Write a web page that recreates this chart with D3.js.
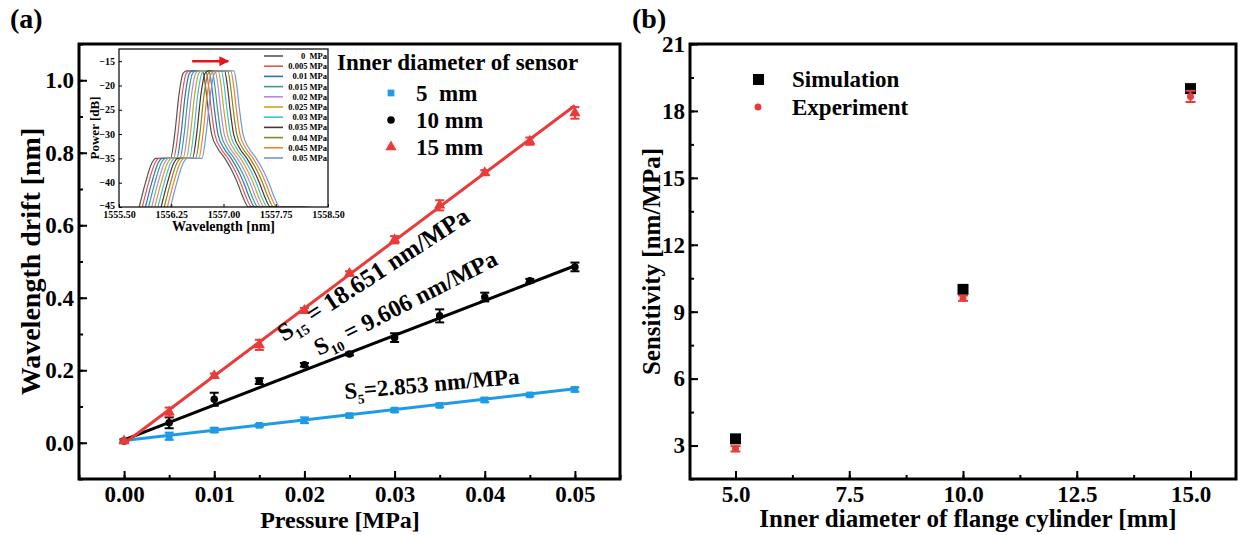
<!DOCTYPE html>
<html lang="en">
<head>
<meta charset="UTF-8">
<title>Wavelength drift and sensitivity</title>
<script src="https://d3js.org/d3.v7.min.js"></script>
<style>
  body { margin: 0; background: #fff; }
  svg { display: block; }
  text { font-family: "Liberation Serif", "Times New Roman", serif; font-weight: bold; fill: #000; }
</style>
</head>
<body>
<svg width="1244" height="535"></svg>
<script>
// ---- panel (a) data ----
const pressure = [0, 0.005, 0.01, 0.015, 0.02, 0.025, 0.03, 0.035, 0.04, 0.045, 0.05];
const drift5  = [0.005, 0.018, 0.035, 0.048, 0.062, 0.075, 0.090, 0.103, 0.118, 0.132, 0.147];
const err5    = [0.004, 0.010, 0.006, 0.004, 0.008, 0.005, 0.005, 0.005, 0.006, 0.004, 0.006];
const drift10 = [0.005, 0.055, 0.120, 0.170, 0.215, 0.245, 0.290, 0.350, 0.402, 0.447, 0.485];
const err10   = [0.004, 0.015, 0.018, 0.008, 0.005, 0.004, 0.012, 0.018, 0.012, 0.005, 0.012];
const drift15 = [0.005, 0.085, 0.185, 0.270, 0.365, 0.467, 0.560, 0.655, 0.745, 0.832, 0.910];
const err15   = [0.004, 0.012, 0.006, 0.014, 0.007, 0.006, 0.010, 0.014, 0.007, 0.010, 0.016];
const slopes  = [2.853, 9.606, 18.651];
const intercepts = [0.006, 0.008, -0.002];
const sensorLabels = ["5  mm", "10 mm", "15 mm"];
const xTicksA = [0, 0.01, 0.02, 0.03, 0.04, 0.05];
const yTicksA = [0, 0.2, 0.4, 0.6, 0.8, 1.0];

// ---- inset spectra ----
const baseLam = [1555.79, 1555.88, 1555.97, 1556.03, 1556.24, 1556.30, 1556.36, 1556.42, 1556.47,
                 1556.70, 1556.74, 1556.78, 1556.83, 1556.92, 1557.02, 1557.12, 1557.20, 1557.28, 1557.36, 1557.80];
const baseDb  = [-45, -40, -36, -35, -35, -30, -22, -17.5, -17, -17, -20, -25, -30, -33, -35, -37.5, -40, -43, -45, -45];
const shifts  = [0, 0.045, 0.09, 0.135, 0.18, 0.225, 0.27, 0.315, 0.36, 0.405, 0.45];
const pressLabels = ["0  MPa", "0.005 MPa", "0.01 MPa", "0.015 MPa", "0.02 MPa", "0.025 MPa",
                     "0.03 MPa", "0.035 MPa", "0.04 MPa", "0.045 MPa", "0.05 MPa"];
const specColors = ["#555555", "#e8544c", "#2f6fc0", "#3a9f7c", "#b98ad6", "#c9a42a",
                    "#3cc4c8", "#5a2c2c", "#7d8a26", "#f0822e", "#6d9ad4"];
const lamTicks = [1555.5, 1556.25, 1557.0, 1557.75, 1558.5];
const dbTicks = [-45, -40, -35, -30, -25, -20, -15];

// ---- panel (b) data ----
const diameter = [5, 10, 15];
const simulation = [3.3, 10.0, 19.0];
const experiment = [2.853, 9.606, 18.651];
const expErr = [0.12, 0.12, 0.25];
const xTicksB = [5, 7.5, 10, 12.5, 15];
const yTicksB = [3, 6, 9, 12, 15, 18, 21];

const blue = "#1e9be6", red = "#ea3b3b";
const svg = d3.select("svg");

function styleAxis(g, size) {
  g.select(".domain").remove();
  g.selectAll("line").attr("stroke", "#000").attr("stroke-width", 2);
  g.selectAll("text").attr("font-family", null).attr("font-size", size);
}

function frame(x, y, sw) {
  const [x0, x1] = x.range(), [y0, y1] = y.range();
  svg.append("rect").attr("x", x0).attr("y", y1).attr("width", x1 - x0).attr("height", y0 - y1)
    .attr("fill", "none").attr("stroke", "#000").attr("stroke-width", sw);
}

// ================= panel (a) =================
const ax = d3.scaleLinear().domain([-0.005, 0.055]).range([79, 620]);
const ay = d3.scaleLinear().domain([-0.1, 1.1]).range([479, 44]);

svg.append("g").attr("transform", `translate(0,${ay.range()[0]})`)
  .call(d3.axisBottom(ax).tickValues(d3.range(-0.005, 0.056, 0.005)).tickFormat("").tickSize(-4).tickSizeOuter(0))
  .call(g => styleAxis(g, 0));
svg.append("g").attr("transform", `translate(0,${ay.range()[0]})`)
  .call(d3.axisBottom(ax).tickValues(xTicksA).tickFormat(d3.format(".2f")).tickSize(-8).tickSizeOuter(0).tickPadding(7))
  .call(g => styleAxis(g, 23));
svg.append("g").attr("transform", `translate(${ax.range()[0]},0)`)
  .call(d3.axisLeft(ay).tickValues(d3.range(-0.1, 1.11, 0.1)).tickFormat("").tickSize(-4).tickSizeOuter(0))
  .call(g => styleAxis(g, 0));
svg.append("g").attr("transform", `translate(${ax.range()[0]},0)`)
  .call(d3.axisLeft(ay).tickValues(yTicksA).tickFormat(d3.format(".1f")).tickSize(-8).tickSizeOuter(0).tickPadding(5))
  .call(g => styleAxis(g, 23));
frame(ax, ay, 3);

svg.append("text").attr("x", 10).attr("y", 28).attr("font-size", 28).text("(a)");
svg.append("text").attr("x", 340).attr("y", 528).attr("text-anchor", "middle")
  .attr("font-size", 24).text("Pressure [MPa]");
svg.append("text").attr("transform", `translate(40,${d3.mean(ay.range())}) rotate(-90)`)
  .attr("text-anchor", "middle").attr("font-size", 28).text("Wavelength drift [nm]");

const seriesA = [
  {vals: drift5, err: err5, color: blue, sym: d3.symbolSquare, size: 45},
  {vals: drift10, err: err10, color: "#000", sym: d3.symbolCircle, size: 45},
  {vals: drift15, err: err15, color: red, sym: d3.symbolTriangle, size: 55}
];

seriesA.forEach((s, i) => {
  const g = svg.append("g");
  // fitted line
  g.append("line")
    .attr("x1", ax(0)).attr("y1", ay(intercepts[i]))
    .attr("x2", ax(0.05)).attr("y2", ay(slopes[i] * 0.05 + intercepts[i]))
    .attr("stroke", s.color).attr("stroke-width", 3);
  // error bars
  pressure.forEach((p, j) => {
    const x = ax(p), yt = ay(s.vals[j] + s.err[j]), yb = ay(s.vals[j] - s.err[j]);
    g.append("line").attr("x1", x).attr("x2", x).attr("y1", yt).attr("y2", yb).attr("stroke", s.color).attr("stroke-width", 2);
    g.append("line").attr("x1", x - 4.5).attr("x2", x + 4.5).attr("y1", yt).attr("y2", yt).attr("stroke", s.color).attr("stroke-width", 2);
    g.append("line").attr("x1", x - 4.5).attr("x2", x + 4.5).attr("y1", yb).attr("y2", yb).attr("stroke", s.color).attr("stroke-width", 2);
  });
  g.selectAll("path.pt").data(pressure).join("path").attr("class", "pt")
    .attr("d", d3.symbol().type(s.sym).size(s.size))
    .attr("transform", (p, j) => `translate(${ax(p)},${ay(s.vals[j])})`)
    .attr("fill", s.color);
});

// slope annotations
function slopeLabel(x, y, angle, size, sub, rest) {
  const t = svg.append("text").attr("transform", `translate(${x},${y}) rotate(${angle})`).attr("font-size", size)
    .attr("xml:space", "preserve");
  t.append("tspan").text("S");
  t.append("tspan").attr("dy", 6).attr("font-size", size * 0.58).text(sub);
  t.append("tspan").attr("dy", -6).text(rest);
}
slopeLabel(284, 342, -33, 25, "15", " = 18.651 nm/MPa");
slopeLabel(319, 356, -27, 24, "10", " = 9.606 nm/MPa");
slopeLabel(345, 399, -5, 23, "5", "=2.853 nm/MPa");

// legend (a)
svg.append("text").attr("x", 337).attr("y", 70).attr("font-size", 23).text("Inner diameter of sensor");
seriesA.forEach((s, i) => {
  const y = 93 + i * 27;
  svg.append("path").attr("d", d3.symbol().type(s.sym).size(s.size)).attr("transform", `translate(391,${y})`).attr("fill", s.color);
  svg.append("text").attr("x", 416).attr("y", y + 8).attr("font-size", 23).attr("xml:space", "preserve").text(sensorLabels[i]);
});

// ================= inset =================
const ix = d3.scaleLinear().domain([1555.5, 1558.5]).range([119, 328]);
const iy = d3.scaleLinear().domain([-45, -12.5]).range([207, 49]);
svg.append("rect").attr("x", 88).attr("y", 46).attr("width", 244).attr("height", 190).attr("fill", "#fff");
svg.append("clipPath").attr("id", "inClip").append("rect")
  .attr("x", ix.range()[0]).attr("y", iy.range()[1]).attr("width", ix.range()[1] - ix.range()[0]).attr("height", iy.range()[0] - iy.range()[1]);
const spec = d3.line().x(d => ix(d[0])).y(d => iy(d[1])).curve(d3.curveMonotoneX);
const specG = svg.append("g").attr("clip-path", "url(#inClip)");
shifts.forEach((sh, k) => {
  specG.append("path").attr("d", spec(baseLam.map((l, j) => [l + sh, baseDb[j]])))
    .attr("fill", "none").attr("stroke", specColors[k]).attr("stroke-width", 1.2);
});
svg.append("g").attr("transform", `translate(0,${iy.range()[0]})`)
  .call(d3.axisBottom(ix).tickValues(lamTicks).tickFormat(d3.format(".2f")).tickSize(-3).tickSizeOuter(0).tickPadding(4))
  .call(g => styleAxis(g, 10)).call(g => g.selectAll("line").attr("stroke-width", 1));
svg.append("g").attr("transform", `translate(${ix.range()[0]},0)`)
  .call(d3.axisLeft(iy).tickValues(dbTicks).tickSize(-3).tickSizeOuter(0).tickPadding(4))
  .call(g => styleAxis(g, 10)).call(g => g.selectAll("line").attr("stroke-width", 1))
  .call(g => g.selectAll("text").filter(d => d === -45).attr("dy", "0.1em"));
frame(ix, iy, 1.2);
svg.append("text").attr("x", d3.mean(ix.range())).attr("y", 231).attr("text-anchor", "middle").attr("font-size", 14).text("Wavelength [nm]");
svg.append("text").attr("transform", `translate(99,${d3.mean(iy.range())}) rotate(-90)`).attr("text-anchor", "middle")
  .attr("font-size", 13).text("Power [dB]");
// shift arrow
svg.append("defs").append("marker").attr("id", "arr").attr("viewBox", "0 0 10 10").attr("refX", 9).attr("refY", 5)
  .attr("markerWidth", 4).attr("markerHeight", 4).attr("orient", "auto")
  .append("path").attr("d", "M0,0L10,5L0,10z").attr("fill", "#e01818");
svg.append("line").attr("x1", ix(1556.55)).attr("x2", ix(1557.07)).attr("y1", iy(-15)).attr("y2", iy(-15))
  .attr("stroke", "#e01818").attr("stroke-width", 2.5).attr("marker-end", "url(#arr)");
// inset legend
pressLabels.forEach((lab, k) => {
  const y = 56 + k * 10.2;
  svg.append("line").attr("x1", 264).attr("x2", 283).attr("y1", y).attr("y2", y).attr("stroke", specColors[k]).attr("stroke-width", 1.6);
  svg.append("text").attr("x", 327).attr("y", y + 3).attr("text-anchor", "end").attr("font-size", 8.5)
    .attr("xml:space", "preserve").text(lab);
});

// ================= panel (b) =================
const bx = d3.scaleLinear().domain([4, 16]).range([690, 1236]);
const by = d3.scaleLinear().domain([1.5, 21]).range([479, 44]);

svg.append("g").attr("transform", `translate(0,${by.range()[0]})`)
  .call(d3.axisBottom(bx).tickValues(d3.range(5, 15.1, 1.25)).tickFormat("").tickSize(-4).tickSizeOuter(0))
  .call(g => styleAxis(g, 0));
svg.append("g").attr("transform", `translate(0,${by.range()[0]})`)
  .call(d3.axisBottom(bx).tickValues(xTicksB).tickFormat(d3.format(".1f")).tickSize(-8).tickSizeOuter(0).tickPadding(7))
  .call(g => styleAxis(g, 23));
svg.append("g").attr("transform", `translate(${bx.range()[0]},0)`)
  .call(d3.axisLeft(by).tickValues(d3.range(1.5, 21.1, 1.5)).tickFormat("").tickSize(-4).tickSizeOuter(0))
  .call(g => styleAxis(g, 0));
svg.append("g").attr("transform", `translate(${bx.range()[0]},0)`)
  .call(d3.axisLeft(by).tickValues(yTicksB).tickSize(-8).tickSizeOuter(0).tickPadding(5))
  .call(g => styleAxis(g, 23));
frame(bx, by, 3);

svg.append("text").attr("x", 632).attr("y", 28).attr("font-size", 28).text("(b)");
svg.append("text").attr("x", 968).attr("y", 527).attr("text-anchor", "middle")
  .attr("font-size", 25).text("Inner diameter of flange cylinder [mm]");
svg.append("text").attr("transform", `translate(660,${d3.mean(by.range())}) rotate(-90)`)
  .attr("text-anchor", "middle").attr("font-size", 25).text("Sensitivity [nm/MPa]");

const gb = svg.append("g");
gb.selectAll("rect.sim").data(diameter).join("rect").attr("class", "sim")
  .attr("x", d => bx(d) - 5.5).attr("y", (d, i) => by(simulation[i]) - 5.5)
  .attr("width", 11).attr("height", 11).attr("fill", "#000");
diameter.forEach((d, i) => {
  const x = bx(d), yt = by(experiment[i] + expErr[i]), yb = by(experiment[i] - expErr[i]);
  gb.append("line").attr("x1", x).attr("x2", x).attr("y1", yt).attr("y2", yb).attr("stroke", red).attr("stroke-width", 2);
  [yt, yb].forEach(yy => gb.append("line").attr("x1", x - 5).attr("x2", x + 5).attr("y1", yy).attr("y2", yy)
    .attr("stroke", red).attr("stroke-width", 2));
});
gb.selectAll("circle.exp").data(diameter).join("circle").attr("class", "exp")
  .attr("cx", d => bx(d)).attr("cy", (d, i) => by(experiment[i])).attr("r", 3.5).attr("fill", red);

// legend (b)
svg.append("rect").attr("x", 753).attr("y", 74).attr("width", 11).attr("height", 11).attr("fill", "#000");
svg.append("text").attr("x", 792).attr("y", 87).attr("font-size", 23).text("Simulation");
svg.append("circle").attr("cx", 758).attr("cy", 107).attr("r", 3.5).attr("fill", red);
svg.append("text").attr("x", 792).attr("y", 115).attr("font-size", 23).text("Experiment");
</script>
</body>
</html>
